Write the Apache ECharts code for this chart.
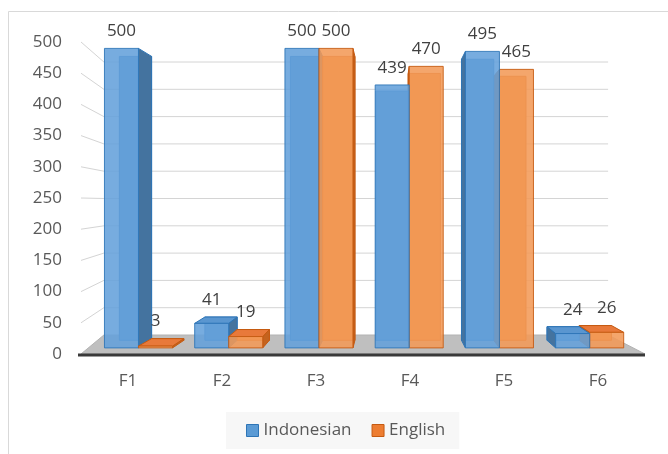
<!DOCTYPE html>
<html>
<head>
<meta charset="utf-8">
<script src="https://cdn.jsdelivr.net/npm/echarts/dist/echarts.min.js"></script>
<style>
  html, body { margin: 0; padding: 0; background: #fff; }
  #main { width: 668px; height: 454px; }
</style>
</head>
<body>
<div id="main"></div>
<script>
var categories = ['F1', 'F2', 'F3', 'F4', 'F5', 'F6'];
var indonesian = [500, 41, 500, 439, 495, 24];
var english = [3, 19, 500, 470, 465, 26];
var yTicks = [0, 50, 100, 150, 200, 250, 300, 350, 400, 450, 500];

// 透视参数 (像素)
var VY = 202;                        // 视线高度
var VX_BAR = 390, S_FRONT = 0.96, S_BACK = 0.91;
var VX_WALL = 297, SX_WALL = 0.894, SY_WALL = 0.875;
var BAR_RATIO = 0.377;

var bluePal = { front: '#64a1db', back: '#5890c6', side: '#44739f', top: '#5a96d0', edge: '#2e75b6' };
var orangePal = { front: '#f39a58', back: '#e8893f', side: '#c4631f', top: '#e8793a', edge: '#c55a11' };

function P(x, y, s) {
  return [VX_BAR + (x - VX_BAR) * s, VY + (y - VY) * s];
}
function W(x, y) {
  return [VX_WALL + (x - VX_WALL) * SX_WALL, VY + (y - VY) * SY_WALL];
}
function poly(points, fill, stroke, z2, opacity) {
  return {
    type: 'polygon',
    z2: z2,
    shape: { points: points },
    style: { fill: fill, stroke: stroke, lineWidth: 1, opacity: opacity == null ? 1 : opacity }
  };
}

function makeBarRender(pos, pal) {
  return function (params, api) {
    var i = api.value(0), v = api.value(1);
    var top = api.coord([i, v]);
    var bottom = api.coord([i, 0]);
    var bw = api.size([1, 0])[0] * BAR_RATIO;
    var x0 = pos < 0 ? top[0] - bw : top[0];
    var x1 = x0 + bw;
    var yt = top[1], yb = bottom[1];
    var groupRight = P(top[0], yt, S_FRONT)[0] > VX_BAR;
    // 离视点近的柱子后画
    var zb = ((pos < 0) === groupRight) ? 20 : 10;

    var fl = P(x0, yt, S_FRONT), fr = P(x1, yt, S_FRONT);
    var fbr = P(x1, yb, S_FRONT), fbl = P(x0, yb, S_FRONT);
    var bl = P(x0, yt, S_BACK), br = P(x1, yt, S_BACK);
    var bbr = P(x1, yb, S_BACK), bbl = P(x0, yb, S_BACK);

    var children = [];
    children.push(poly([bl, br, bbr, bbl], pal.back, pal.edge, zb));
    if (fr[0] < VX_BAR) children.push(poly([fr, br, bbr, fbr], pal.side, pal.edge, zb + 1));
    if (fl[0] > VX_BAR) children.push(poly([fl, bl, bbl, fbl], pal.side, pal.edge, zb + 1));
    if (fl[1] > VY) children.push(poly([fl, fr, br, bl], pal.top, pal.edge, zb + 2));
    children.push(poly([fl, fr, fbr, fbl], pal.front, pal.edge, zb + 3, 0.88));
    children.push({
      type: 'text',
      z2: 100,
      style: {
        x: (fl[0] + fr[0]) / 2,
        y: Math.min(fl[1], bl[1]) - 17,
        text: String(v),
        fill: '#404040',
        font: '17px "Open Sans"',
        align: 'center',
        verticalAlign: 'middle'
      }
    });
    return { type: 'group', children: children };
  };
}

function renderWall(params, api) {
  var v = api.value(1);
  var cs = params.coordSys;
  var y = api.coord([0, v])[1];
  var left = cs.x, right = cs.x + cs.width;
  var children = [];
  if (v === 0) {
    children.push({
      type: 'polygon',
      shape: { points: [[left, y], [right, y], W(right, y), W(left, y)] },
      style: { fill: '#bfbfbf', stroke: '#b3b3b3', lineWidth: 1 }
    });
    children.push({
      type: 'line',
      shape: { x1: left - 3, y1: y + 1, x2: right, y2: y + 1 },
      style: { stroke: '#3a3a3a', lineWidth: 3 }
    });
  } else {
    children.push({
      type: 'polyline',
      shape: { points: [[left, y], W(left, y), W(right, y)] },
      style: { stroke: '#d4d4d4', lineWidth: 1, fill: null }
    });
  }
  return { type: 'group', children: children };
}

var chart = echarts.init(document.getElementById('main'), null, { renderer: 'canvas' });

var option = {
  animation: false,
  backgroundColor: '#fff',
  graphic: [{
    type: 'rect',
    shape: { x: 8.5, y: 11.5, width: 700, height: 500 },
    style: { fill: null, stroke: '#d9d9d9', lineWidth: 1 },
    silent: true,
    z: 0
  }],
  grid: {
    left: 81,
    right: 23,
    top: 42,
    bottom: 100
  },
  legend: {
    left: 226,
    top: 412,
    padding: [10, 14, 10, 20],
    backgroundColor: '#f7f7f7',
    itemWidth: 12,
    itemHeight: 12,
    itemGap: 20,
    textStyle: { fontSize: 17, color: '#595959', fontFamily: 'Open Sans' },
    data: [
      { name: 'Indonesian', icon: 'rect', itemStyle: { color: '#5b9bd5', borderColor: '#2e75b6', borderWidth: 1 } },
      { name: 'English', icon: 'rect', itemStyle: { color: '#ed7d31', borderColor: '#c55a11', borderWidth: 1 } }
    ]
  },
  xAxis: {
    type: 'category',
    data: categories,
    boundaryGap: true,
    axisLine: { show: false },
    axisTick: { show: false },
    axisLabel: { margin: 19, fontSize: 17, color: '#595959', fontFamily: 'Open Sans' }
  },
  yAxis: {
    type: 'value',
    min: 0,
    max: 500,
    interval: 50,
    axisLine: { show: false },
    axisTick: { show: false },
    splitLine: { show: false },
    axisLabel: { margin: 19, fontSize: 17, color: '#595959', fontFamily: 'Open Sans' }
  },
  series: [{
    name: 'walls',
    type: 'custom',
    z: 1,
    silent: true,
    renderItem: renderWall,
    encode: { x: 0, y: 1 },
    data: yTicks.map(function (t) { return [0, t]; })
  }, {
    name: 'Indonesian',
    type: 'custom',
    z: 2,
    itemStyle: { color: '#5b9bd5' },
    renderItem: makeBarRender(-1, bluePal),
    encode: { x: 0, y: 1 },
    data: indonesian.map(function (v, i) { return [i, v]; })
  }, {
    name: 'English',
    type: 'custom',
    z: 2,
    itemStyle: { color: '#ed7d31' },
    renderItem: makeBarRender(1, orangePal),
    encode: { x: 0, y: 1 },
    data: english.map(function (v, i) { return [i, v]; })
  }]
};

chart.setOption(option);
</script>
</body>
</html>
